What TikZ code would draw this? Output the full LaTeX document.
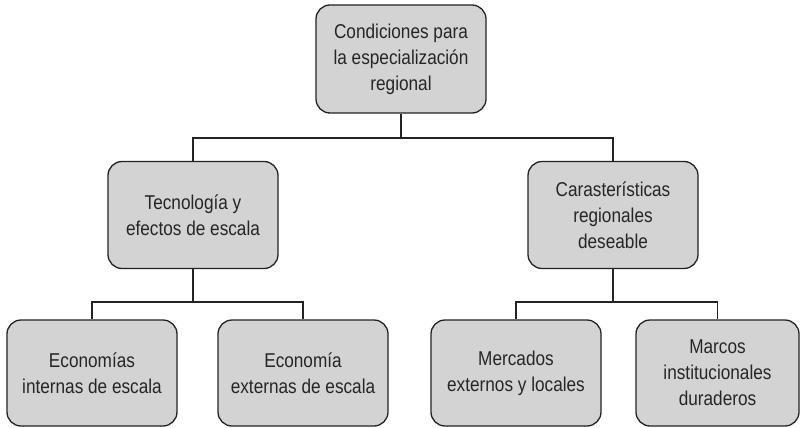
\documentclass[tikz,border=0pt]{standalone}
\usepackage{fontspec}
\setmainfont[FakeStretch=0.86]{Liberation Sans}
\definecolor{boxfill}{RGB}{211,211,211}
\definecolor{boxline}{RGB}{35,35,35}
\tikzset{
  box/.style={draw=boxline, fill=boxfill, line width=1.3pt, rounded corners=14pt,
    minimum width=170pt, minimum height=107pt, align=center, inner sep=2pt,
    font=\fontsize{20}{26}\selectfont, text=black!85},
  conn/.style={draw=boxline, line width=1.5pt}
}
\begin{document}
\begin{tikzpicture}[x=1pt,y=-1pt]
\useasboundingbox (0,0) rectangle (800,428);
\node[box, minimum height=108pt] (top) at (401,59) {Condiciones para\\la especialización\\regional};
\node[box] (tec) at (193,215) {Tecnología y\\efectos de escala};
\node[box] (car) at (613,215) {Carasterísticas\\regionales\\deseable};
\node[box, minimum height=106pt] (e1) at (92,373) {Economías\\internas de escala};
\node[box, minimum height=106pt] (e2) at (303,373) {Economía\\externas de escala};
\node[box, minimum height=106pt] (m1) at (516,373) {Mercados\\externos y locales};
\node[box, minimum height=106pt, minimum width=163pt] (m2) at (717.5,373) {Marcos\\institucionales\\duraderos};
\coordinate (b1) at (401,138);
\coordinate (b2) at (193,302);
\coordinate (b3) at (613,302);
\draw[conn] (top.south) -- (b1);
\draw[conn] (tec.north) |- (b1) -| (car.north);
\draw[conn] (tec.south) -- (b2);
\draw[conn] (e1.north) |- (b2) -| (e2.north);
\draw[conn] (car.south) -- (b3);
\draw[conn] (m1.north) |- (b3) -| (m2.north);
\end{tikzpicture}
\end{document}
